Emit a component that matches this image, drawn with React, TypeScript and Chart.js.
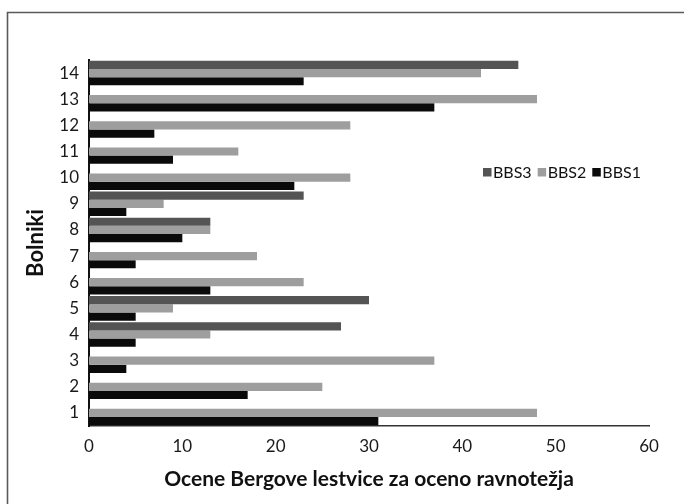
import React, { useEffect, useRef } from "react";
import { Chart, registerables } from "chart.js";

Chart.register(...registerables);

// Categories top to bottom (patients 14 .. 1)
const categories = ["14", "13", "12", "11", "10", "9", "8", "7", "6", "5", "4", "3", "2", "1"];
const bbs3 = [46, 0, 0, 0, 0, 23, 13, 0, 0, 30, 27, 0, 0, 0];
const bbs2 = [42, 48, 28, 16, 28, 8, 13, 18, 23, 9, 13, 37, 25, 48];
const bbs1 = [23, 37, 7, 9, 22, 4, 10, 5, 13, 5, 5, 4, 17, 31];
const xTicks = [0, 10, 20, 30, 40, 50, 60];
const seriesNames = ["BBS3", "BBS2", "BBS1"];
const seriesColors = ["#545454", "#9e9e9e", "#0a0a0a"];

const FONT = "Lato, 'Open Sans', 'DejaVu Sans', sans-serif";

const framePlugin = {
  id: "frame",
  beforeDraw(chart: any) {
    const ctx = chart.ctx;
    ctx.save();
    ctx.fillStyle = "#ffffff";
    ctx.fillRect(0, 0, chart.width, chart.height);
    ctx.strokeStyle = "#5a5a5a";
    ctx.lineWidth = 1.6;
    ctx.beginPath();
    ctx.moveTo(7.5, chart.height);
    ctx.lineTo(7.5, 12.5);
    ctx.lineTo(chart.width, 12.5);
    ctx.stroke();
    ctx.restore();
  },
};

const legendPlugin = {
  id: "innerLegend",
  afterDraw(chart: any) {
    const ctx = chart.ctx;
    ctx.save();
    ctx.font = `16px ${FONT}`;
    ctx.textBaseline = "middle";
    let x = 483;
    const yMid = 172.5;
    chart.data.datasets.forEach((ds: any) => {
      ctx.fillStyle = ds.backgroundColor;
      ctx.fillRect(x, yMid - 4.5, 8.5, 8.5);
      x += 10;
      ctx.fillStyle = "#111111";
      ctx.fillText(ds.label, x, yMid);
      x += ctx.measureText(ds.label).width + 6;
    });
    ctx.restore();
  },
};

export default function App() {
  const ref = useRef<HTMLCanvasElement | null>(null);

  useEffect(() => {
    if (!ref.current) return;
    const values = [bbs3, bbs2, bbs1];
    const chart = new Chart(ref.current, {
      type: "bar",
      data: {
        labels: categories,
        datasets: seriesNames.map((name, i) => ({
          label: name,
          data: values[i],
          backgroundColor: seriesColors[i],
          borderWidth: 0,
          categoryPercentage: 0.94,
          barPercentage: 1.0,
        })),
      },
      options: {
        indexAxis: "y",
        responsive: false,
        animation: false,
        layout: { padding: { top: 60, right: 35, bottom: 0, left: 0 } },
        plugins: {
          legend: { display: false },
          tooltip: { enabled: false },
        },
        scales: {
          x: {
            type: "linear",
            min: 0,
            max: 60,
            afterBuildTicks: (s: any) => {
              s.ticks = xTicks.map((v) => ({ value: v }));
            },
            afterFit: (s: any) => {
              s.height = 78;
            },
            grid: { display: false, drawTicks: false },
            border: { display: true, color: "#333333", width: 1.5 },
            ticks: {
              padding: 10,
              color: "#1a1a1a",
              font: { family: FONT, size: 17 },
            },
            title: {
              display: true,
              text: "Ocene Bergove lestvice za oceno ravnotežja",
              color: "#111111",
              font: { family: FONT, size: 21, weight: "bold" },
              padding: { top: 0, bottom: 12 },
            },
          },
          y: {
            type: "category",
            afterFit: (s: any) => {
              s.width = 89;
            },
            grid: { display: false, drawTicks: false },
            border: { display: true, color: "#111111", width: 2 },
            ticks: {
              padding: 10,
              color: "#1a1a1a",
              font: { family: FONT, size: 17 },
            },
            title: {
              display: true,
              text: "Bolniki",
              color: "#111111",
              font: { family: FONT, size: 22, weight: "bold" },
              padding: { top: 23, bottom: 0 },
            },
          },
        },
      },
      plugins: [framePlugin, legendPlugin],
    });
    return () => chart.destroy();
  }, []);

  return (
    <div style={{ position: "fixed", left: 0, top: 0, width: 684, height: 504, background: "#fff" }}>
      <canvas ref={ref} width={684} height={504} style={{ display: "block" }} />
    </div>
  );
}
